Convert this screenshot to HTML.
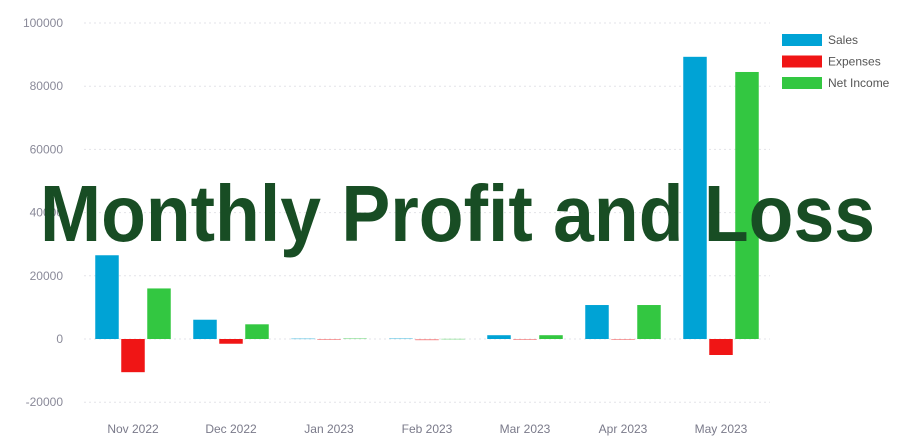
<!DOCTYPE html>
<html><head><meta charset="utf-8"><style>
body{margin:0;background:#fff;width:912px;height:442px;overflow:hidden}
svg{display:block;font-family:"Liberation Sans",sans-serif}
</style></head><body>
<svg id="chart" width="912" height="442" viewBox="0 0 912 442"></svg>
<script>
const categories=["Nov 2022","Dec 2022","Jan 2023","Feb 2023","Mar 2023","Apr 2023","May 2023"];
const sales=[26500,6100,250,300,1200,10750,89300];
const expenses=[-10500,-1500,-200,-400,-50,-100,-5060];
const netIncome=[16000,4650,300,100,1200,10750,84500];
const yTicks=[-20000,0,20000,40000,60000,80000,100000];
const seriesNames=["Sales","Expenses","Net Income"];
const colors=["#00a3d5","#f01515","#33c741"];
const svg=document.getElementById('chart');
const NS="http://www.w3.org/2000/svg";
const left=84,right=770,zeroY=339,pxPer=(339-23)/100000;
const band=(right-left)/categories.length;
const y=v=>zeroY-v*pxPer;
const xc=i=>left+band*(i+0.5);
function mk(t,a){const e=document.createElementNS(NS,t);for(const k in a)e.setAttribute(k,a[k]);svg.appendChild(e);return e;}
yTicks.forEach(t=>{
 const g=mk('line',{x1:left,x2:right,y1:y(t),y2:y(t),stroke:'#e3e3e8','stroke-dasharray':'2,3'});
 
 
 const l=mk('text',{x:63,y:y(t)+4,'text-anchor':'end','font-size':12,fill:'#8a8a99'});
 l.textContent=t;
 
 
});
categories.forEach((c,i)=>{
 const l=mk('text',{x:xc(i),y:433,'text-anchor':'middle','font-size':12,fill:'#7a7a8a'});
 l.textContent=c;
 
 
});
const bw=23.5,gap=2.5;
[sales,expenses,netIncome].forEach((arr,s)=>{
 arr.forEach((v,i)=>{
  const x=xc(i)+(s-1)*(bw+gap)-bw/2;
  const top=Math.min(y(v),y(0)),h=Math.max(Math.abs(y(v)-y(0)),1);
  const small=Math.abs(v)<500;
  const r=mk('rect',{x:x,y:top,width:bw,height:h,fill:colors[s],opacity:small?0.4:1});
  
  
 });
});
seriesNames.forEach((n,s)=>{
 const r=mk('rect',{x:782,y:34+s*21.5,width:40,height:12,fill:colors[s]});
 
 
 const t=mk('text',{x:828,y:44+s*21.5,'font-size':12,fill:'#555'});
 t.textContent=n;
 
 
});
const title=mk('text',{x:40,y:241,'font-size':80,'font-weight':'bold',fill:'#184d24',textLength:835,lengthAdjust:'spacingAndGlyphs'});
title.textContent="Monthly Profit and Loss";


</script>
</body></html>
